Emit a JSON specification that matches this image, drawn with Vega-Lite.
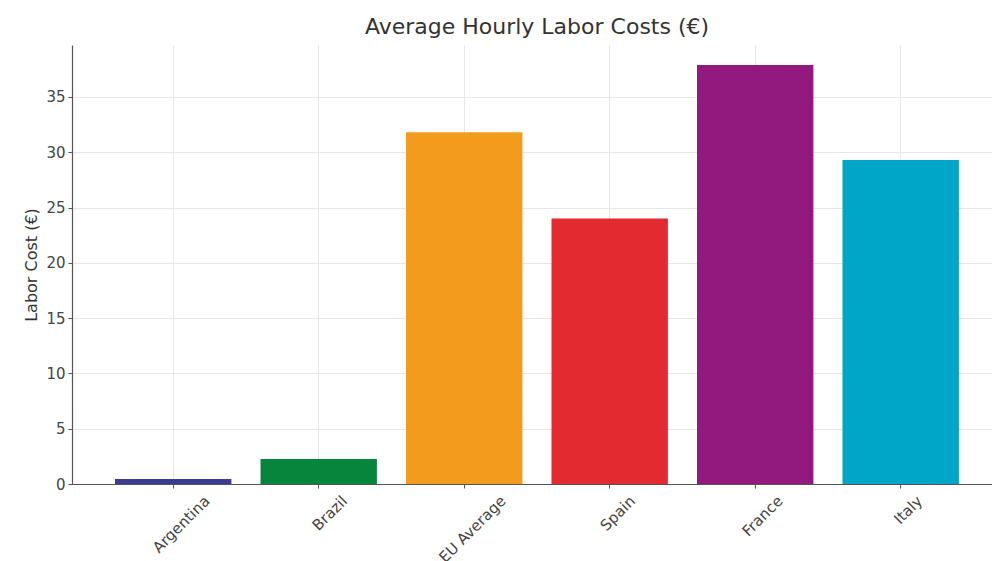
{
  "$schema": "https://vega.github.io/schema/vega-lite/v6.json",
  "autosize": {"type": "none"},
  "width": 920,
  "height": 439,
  "padding": {"left": 72, "top": 45, "right": 0, "bottom": 77},
  "background": "white",
  "title": {
    "text": "Average Hourly Labor Costs (€)",
    "font": "DejaVu Sans",
    "fontSize": 22,
    "fontWeight": "normal",
    "color": "#333333",
    "anchor": "middle",
    "frame": "group",
    "baseline": "alphabetic",
    "offset": -11,
    "dx": 5
  },
  "data": {
    "values": [
      {"country": "Argentina", "cost": 0.45},
      {"country": "Brazil", "cost": 2.25},
      {"country": "EU Average", "cost": 31.8},
      {"country": "Spain", "cost": 24.0},
      {"country": "France", "cost": 37.9},
      {"country": "Italy", "cost": 29.3}
    ]
  },
  "mark": {"type": "bar"},
  "encoding": {
    "x": {
      "field": "country",
      "type": "nominal",
      "sort": null,
      "scale": {"paddingInner": 0.2, "paddingOuter": 0.2615, "align": 0.565},
      "axis": {
        "title": null,
        "labelAngle": -45,
        "labelAlign": "right",
        "labelBaseline": "top",
        "labelFont": "DejaVu Sans",
        "labelFontSize": 15,
        "labelColor": "#444444",
        "labelPadding": 5,
        "labelOffset": {
          "condition": [
            {"test": "datum.label === 'Argentina'", "value": 29},
            {"test": "datum.label === 'Brazil'", "value": 21},
            {"test": "datum.label === 'EU Average'", "value": 34},
            {"test": "datum.label === 'Spain'", "value": 18},
            {"test": "datum.label === 'France'", "value": 20}
          ],
          "value": 14
        },
        "grid": true,
        "gridColor": "#e6e6e6",
        "gridWidth": 1,
        "domainColor": "#555555",
        "domainWidth": 1.2,
        "tickColor": "#555555",
        "tickSize": 4
      }
    },
    "y": {
      "field": "cost",
      "type": "quantitative",
      "scale": {"domain": [0, 39.7], "nice": false},
      "axis": {
        "title": "Labor Cost (€)",
        "titleFont": "DejaVu Sans",
        "titleFontSize": 16,
        "titleFontWeight": "normal",
        "titleColor": "#333333",
        "titlePadding": 6,
        "values": [0, 5, 10, 15, 20, 25, 30, 35],
        "labelFont": "DejaVu Sans",
        "labelFontSize": 15,
        "labelColor": "#444444",
        "labelPadding": 3,
        "grid": true,
        "gridColor": "#e6e6e6",
        "gridWidth": 1,
        "domainColor": "#555555",
        "domainWidth": 1.2,
        "tickColor": "#555555",
        "tickSize": 4
      }
    },
    "color": {
      "field": "country",
      "type": "nominal",
      "scale": {
        "domain": ["Argentina", "Brazil", "EU Average", "Spain", "France", "Italy"],
        "range": ["#3c3b94", "#08853c", "#f39b1c", "#e32a31", "#921a7e", "#00a6c8"]
      },
      "legend": null
    }
  },
  "config": {"view": {"stroke": null}}
}
